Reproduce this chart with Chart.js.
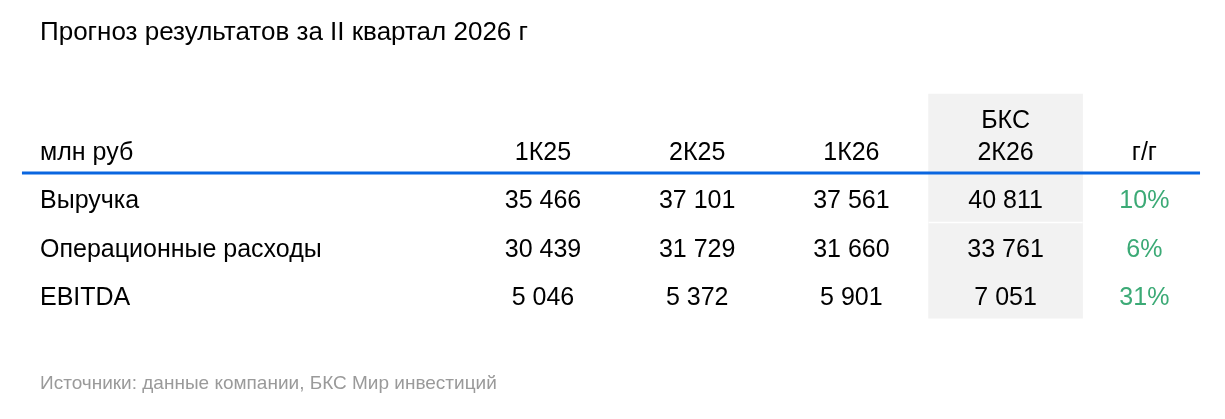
<!DOCTYPE html>
<html lang="ru">
<head>
<meta charset="utf-8">
<title>Прогноз результатов за II квартал 2026 г</title>
<script src="https://cdn.jsdelivr.net/npm/chart.js@4.4.1/dist/chart.umd.min.js"></script>
<style>
    html, body { margin: 0; padding: 0; background: #fff; }
    #wrap { width: 1225px; height: 419px; position: relative; }
</style>
</head>
<body>
<div id="wrap"><canvas id="forecastTable"></canvas></div>
<script>
// Данные таблицы
const titleText = 'Прогноз результатов за II квартал 2026 г';
const sourceText = 'Источники: данные компании, БКС Мир инвестиций';
const unitLabel = 'млн руб';
const columns = ['1К25', '2К25', '1К26', 'БКС\n2К26'];
const yoyLabel = 'г/г';
const rows = ['Выручка', 'Операционные расходы', 'EBITDA'];
const q1_25 = [35466, 30439, 5046];
const q2_25 = [37101, 31729, 5372];
const q1_26 = [37561, 31660, 5901];
const q2_26_bcs = [40811, 33761, 7051];
const yoyPct = [10, 6, 31];

const series = [q1_25, q2_25, q1_26, q2_26_bcs];
const forecastCol = 3;   // колонка с прогнозом БКС (серый фон)
const yoyCol = 3.9;      // колонка г/г чуть ближе к прогнозу

const FONT = "'Liberation Sans', Arial, sans-serif";
Chart.defaults.font.family = FONT;

function formatNumber(v) {
    return String(v).replace(/\B(?=(\d{3})+(?!\d))/g, ' ');
}

// Рисуем текст ячеек по шкалам графика
const tableTextPlugin = {
    id: 'tableText',
    afterDatasetsDraw(chart) {
        const { ctx, scales: { x, y } } = chart;
        ctx.save();

        // белая линия-разделитель в серой колонке
        const bar = chart.getDatasetMeta(1).data[0];
        if (bar) {
            const yy = y.getPixelForValue(1.43);
            ctx.strokeStyle = '#ffffff';
            ctx.lineWidth = 1.5;
            ctx.beginPath();
            ctx.moveTo(bar.x - bar.width / 2, yy);
            ctx.lineTo(bar.x + bar.width / 2, yy);
            ctx.stroke();
        }

        ctx.font = '25px ' + FONT;
        ctx.textBaseline = 'middle';
        ctx.fillStyle = '#000000';

        // подписи строк
        ctx.textAlign = 'left';
        ctx.fillText(unitLabel, x.left, y.getPixelForValue(0));
        rows.forEach((r, i) => ctx.fillText(r, x.left, y.getPixelForValue(i + 1)));

        // шапка
        ctx.textAlign = 'center';
        columns.forEach((c, j) => {
            const lines = c.split('\n');
            lines.forEach((ln, k) => {
                const lift = (lines.length - 1 - k) * 0.655;
                ctx.fillText(ln, x.getPixelForValue(j), y.getPixelForValue(-lift));
            });
        });
        ctx.fillText(yoyLabel, x.getPixelForValue(yoyCol), y.getPixelForValue(0));

        // значения
        series.forEach((s, j) => {
            s.forEach((v, i) => ctx.fillText(formatNumber(v), x.getPixelForValue(j), y.getPixelForValue(i + 1)));
        });

        // изменение г/г
        ctx.fillStyle = '#3caa76';
        yoyPct.forEach((p, i) => ctx.fillText(p + '%', x.getPixelForValue(yoyCol), y.getPixelForValue(i + 1)));

        ctx.restore();
    }
};

new Chart(document.getElementById('forecastTable'), {
    type: 'bar',
    data: {
        datasets: [
            {
                type: 'line',
                label: 'rule',
                data: [{ x: -3.379, y: 0.41 }, { x: 4.261, y: 0.41 }],
                borderColor: '#0a66e0',
                borderWidth: 3,
                borderCapStyle: 'butt',
                pointRadius: 0,
                clip: false,
                order: 1
            },
            {
                label: 'forecast',
                data: [{ x: forecastCol, y: [-1.216, rows.length + 0.405] }],
                backgroundColor: '#f2f2f2',
                borderWidth: 0,
                barThickness: 154,
                order: 2
            }
        ]
    },
    options: {
        responsive: true,
        maintainAspectRatio: false,
        animation: false,
        events: [],
        layout: { padding: { top: 7.5, bottom: 14, left: 40, right: 0 } },
        scales: {
            x: { type: 'linear', min: -3.262, max: 4.423, offset: false, display: false },
            y: { type: 'linear', min: -1.943, max: 4.311, reverse: true, display: false }
        },
        plugins: {
            legend: { display: false },
            tooltip: { enabled: false },
            title: {
                display: true,
                text: titleText,
                align: 'start',
                color: '#000000',
                font: { size: 26, weight: 'normal' },
                padding: { top: 10, bottom: 10 }
            },
            subtitle: {
                display: true,
                text: sourceText,
                position: 'bottom',
                align: 'start',
                color: '#9a9a9a',
                font: { size: 19, weight: 'normal' },
                padding: { top: 10, bottom: 10 }
            }
        }
    },
    plugins: [tableTextPlugin]
});
</script>
</body>
</html>
